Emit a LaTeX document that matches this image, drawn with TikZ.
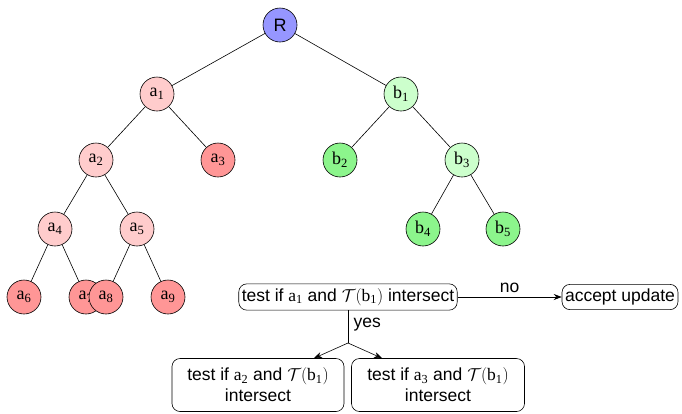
\documentclass[tikz,border=0pt]{standalone}
\usepackage{fontspec}
\setmainfont{Liberation Sans}
\newfontfamily\lblfont{Liberation Serif}
\usetikzlibrary{arrows.meta}
\newcommand{\nlab}[2]{{\lblfont #1\textsubscript{#2}}}
\definecolor{rootblue}{RGB}{150,150,255}
\definecolor{apale}{RGB}{255,204,204}
\definecolor{adark}{RGB}{255,150,150}
\definecolor{bpale}{RGB}{204,255,204}
\definecolor{bdark}{RGB}{140,245,140}
\begin{document}
\begin{tikzpicture}[x=1pt,y=-1pt,
  tnode/.style={circle,draw,line width=0.6pt,minimum size=34pt,inner sep=0pt,font=\fontsize{18}{21}\selectfont},
  rootnode/.style={tnode,fill=rootblue},
  anode/.style={tnode,fill=apale},
  aleaf/.style={tnode,fill=adark},
  bnode/.style={tnode,fill=bpale},
  bleaf/.style={tnode,fill=bdark},
  edge/.style={line width=0.6pt},
  testbox/.style={draw,rounded corners=8pt,line width=0.6pt,align=center,inner xsep=3pt,inner ysep=4.5pt,font=\fontsize{17.5}{21}\selectfont},
  flow/.style={line width=0.6pt,-{Stealth[length=8pt,width=6pt]}},
  lbl/.style={font=\fontsize{17.5}{21}\selectfont}]
\useasboundingbox (0,0) rectangle (682,413);

% tree nodes
\node[rootnode] (R)  at (280,25)  {R};
\node[anode]    (a1) at (157,94)  {\nlab{a}{1}};
\node[bnode]    (b1) at (401,94)  {\nlab{b}{1}};
\node[anode]    (a2) at (96,160)  {\nlab{a}{2}};
\node[aleaf]    (a3) at (218,160) {\nlab{a}{3}};
\node[bleaf]    (b2) at (340,160) {\nlab{b}{2}};
\node[bnode]    (b3) at (462,160) {\nlab{b}{3}};
\node[anode]    (a4) at (55,229)  {\nlab{a}{4}};
\node[anode]    (a5) at (137,229) {\nlab{a}{5}};
\node[bleaf]    (b4) at (423,229) {\nlab{b}{4}};
\node[bleaf]    (b5) at (503,229) {\nlab{b}{5}};
\node[aleaf]    (a6) at (24,297)  {\nlab{a}{6}};
\node[aleaf]    (a7) at (86,297)  {\nlab{a}{7}};
\node[aleaf]    (a8) at (106,297) {\nlab{a}{8}};
\node[aleaf]    (a9) at (168,297) {\nlab{a}{9}};

% tree edges
\draw[edge] (R) -- (a1);
\draw[edge] (R) -- (b1);
\draw[edge] (a1) -- (a2);
\draw[edge] (a1) -- (a3);
\draw[edge] (b1) -- (b2);
\draw[edge] (b1) -- (b3);
\draw[edge] (a2) -- (a4);
\draw[edge] (a2) -- (a5);
\draw[edge] (b3) -- (b4);
\draw[edge] (b3) -- (b5);
\draw[edge] (a4) -- (a6);
\draw[edge] (a4) -- (a7);
\draw[edge] (a5) -- (a8);
\draw[edge] (a5) -- (a9);

% decision boxes
\node[testbox] (t1) at (348,297) {test if \nlab{a}{1} and $\mathcal{T}($\nlab{b}{1}$)$ intersect};
\node[testbox] (acc) at (620,297) {accept update};
\node[testbox,minimum width=172pt,minimum height=53pt] (t2) at (258,385) {test if \nlab{a}{2} and $\mathcal{T}($\nlab{b}{1}$)$\\intersect};
\node[testbox,minimum width=173pt,minimum height=53pt] (t3) at (438,385) {test if \nlab{a}{3} and $\mathcal{T}($\nlab{b}{1}$)$\\intersect};

\coordinate (split) at (348,343);
\draw[flow] (t1) -- node[lbl,above,yshift=1pt] {no} (acc);
\draw[edge] (t1.south) -- node[lbl,right,pos=0.45,xshift=2pt] {yes} (split);
\draw[flow] (split) -- (t2.north -| 314,0);
\draw[flow] (split) -- (t3.north -| 382,0);
\end{tikzpicture}
\end{document}
